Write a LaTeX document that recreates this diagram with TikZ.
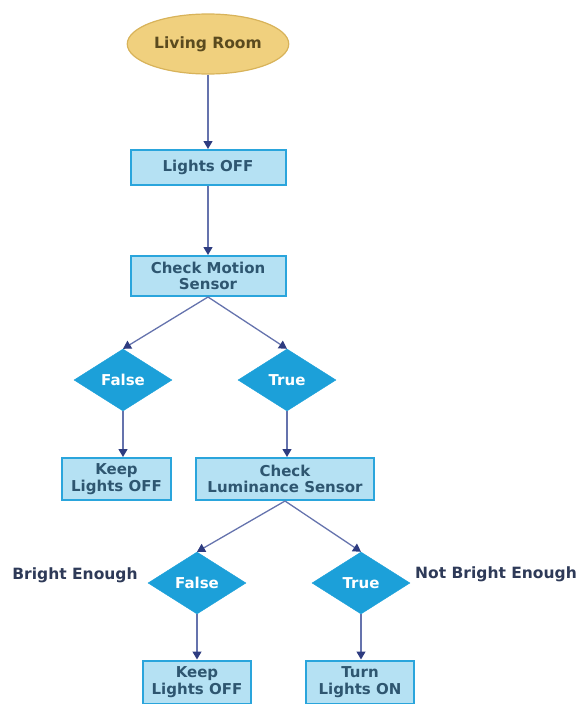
\documentclass[tikz,border=0pt]{standalone}
\usepackage{fontspec}
\setmainfont{DejaVu Sans}
\usetikzlibrary{shapes.geometric,arrows.meta}
\definecolor{boxfill}{HTML}{B5E1F3}
\definecolor{boxline}{HTML}{2AA5DC}
\definecolor{boxtext}{HTML}{2E5670}
\definecolor{dfill}{HTML}{1CA0D9}
\definecolor{efill}{HTML}{F0D07E}
\definecolor{eline}{HTML}{D8B35A}
\definecolor{etext}{HTML}{5A4A1E}
\definecolor{arrowc}{HTML}{6573AD}
\definecolor{tipc}{HTML}{2E3C80}
\definecolor{labc}{HTML}{2E3A58}
\tikzset{
  procbox/.style={rectangle, draw=boxline, fill=boxfill, line width=2pt, inner sep=0pt,
    text=boxtext, font=\bfseries\fontsize{15}{16.5}\selectfont, align=center},
  decis/.style={diamond, fill=dfill, draw=dfill, aspect=1.58, minimum width=98pt, minimum height=62pt,
    inner sep=0pt, text=white, font=\bfseries\fontsize{15}{16}\selectfont},
  startnode/.style={ellipse, fill=efill, draw=eline, line width=1.2pt, minimum width=145pt, minimum height=60pt,
    text=etext, font=\bfseries\fontsize{15.5}{17}\selectfont},
  flow/.style={draw=arrowc, line width=1.3pt, -{Triangle[length=8pt,width=9pt,color=tipc]}},
  sidelab/.style={text=labc, font=\bfseries\fontsize{15.5}{17}\selectfont}
}
\begin{document}
\begin{tikzpicture}[x=1pt,y=-1pt]
\useasboundingbox (0,0) rectangle (577,704);
\node[startnode] (living) at (208,44) {Living Room};
\node[procbox, minimum width=155pt, minimum height=35pt] (off) at (208,167.5) {Lights OFF};
\node[procbox, minimum width=155pt, minimum height=40pt] (motion) at (208,276) {Check Motion\\Sensor};
\node[decis] (f1) at (123,380) {False};
\node[decis] (t1) at (287,380) {True};
\node[procbox, minimum width=109pt, minimum height=42pt] (keep1) at (116.5,479) {Keep\\Lights OFF};
\node[procbox, minimum width=178pt, minimum height=42pt] (lum) at (285,479) {Check\\Luminance Sensor};
\node[decis] (f2) at (197,583) {False};
\node[decis] (t2) at (361,583) {True};
\node[procbox, minimum width=108pt, minimum height=43pt] (keep2) at (197,682) {Keep\\Lights OFF};
\node[procbox, minimum width=108pt, minimum height=43pt] (on) at (360,682) {Turn\\Lights ON};
\node[sidelab] (bright) at (75,575) {Bright Enough};
\node[sidelab] (notbright) at (496,574) {Not Bright Enough};
\draw[flow] (living.south) -- (off.north);
\draw[flow] (off.south) -- (motion.north);
\draw[flow] (motion.south) -- (f1.north);
\draw[flow] (motion.south) -- (t1.north);
\draw[flow] (f1.south) -- (f1.south |- keep1.north);
\draw[flow] (t1.south) -- (t1.south |- lum.north);
\draw[flow] (lum.south) -- (f2.north);
\draw[flow] (lum.south) -- (t2.north);
\draw[flow] (f2.south) -- (keep2.north);
\draw[flow] (t2.south) -- (t2.south |- on.north);
\end{tikzpicture}
\end{document}
